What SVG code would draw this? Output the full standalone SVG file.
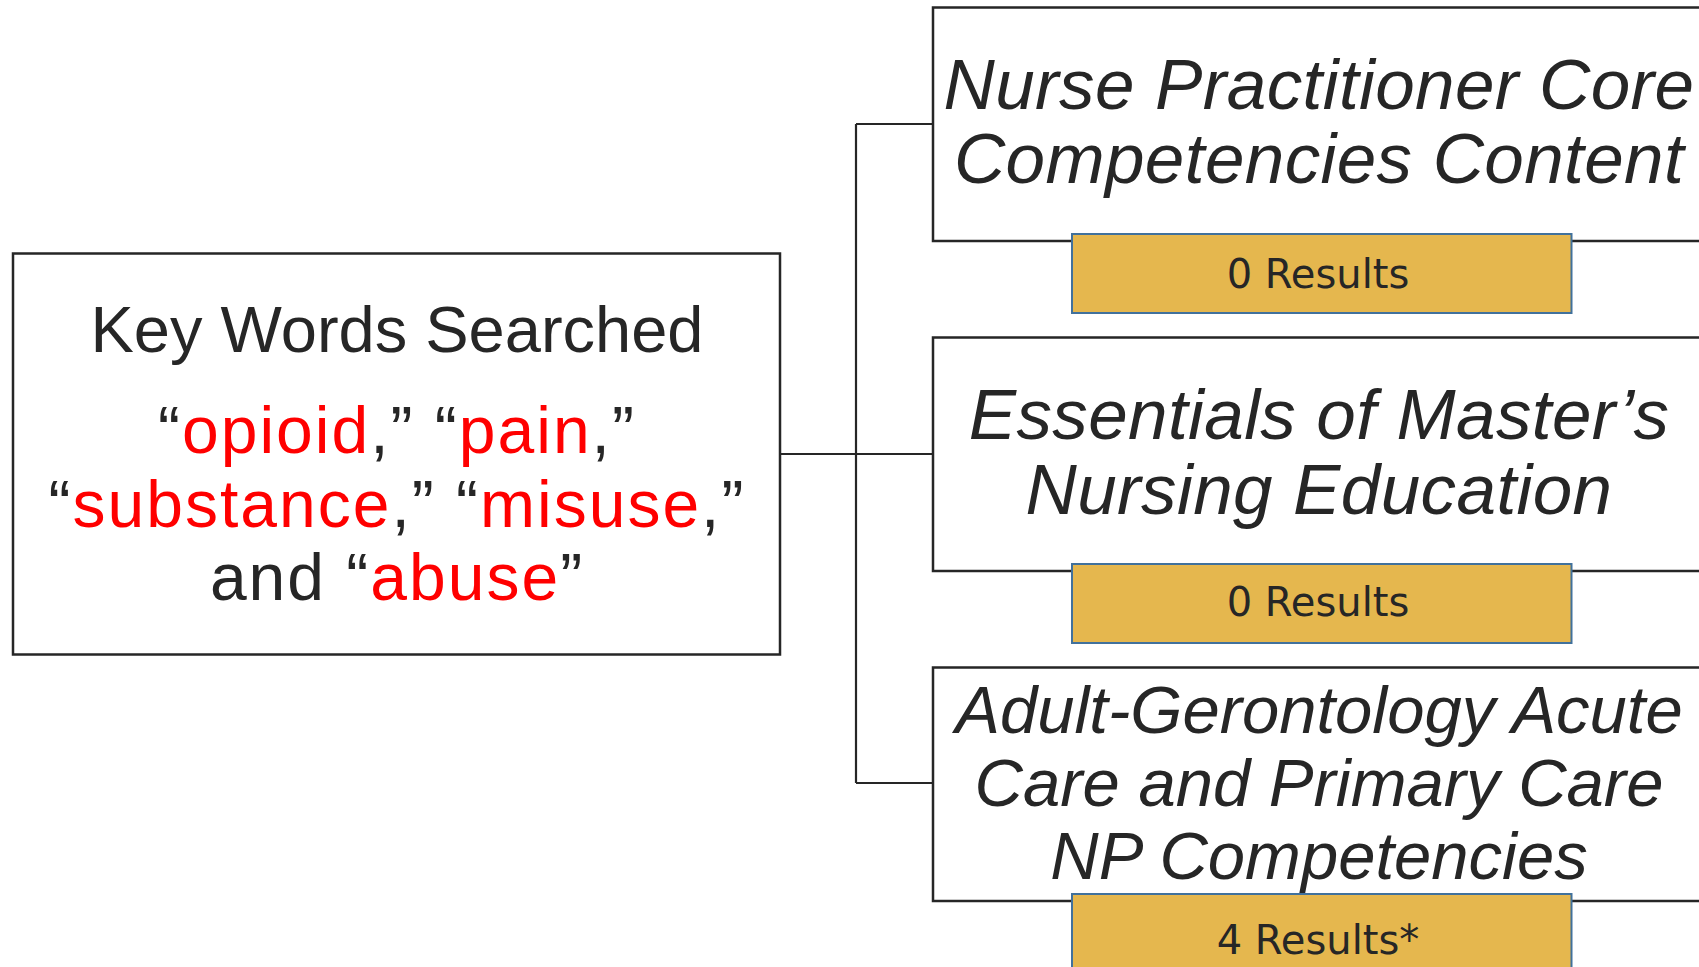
<svg xmlns="http://www.w3.org/2000/svg" width="1699" height="967" viewBox="0 0 1699 967">
<style>
.box{fill:#fff;stroke:#262626;stroke-width:2.5}
.res{fill:#E5B74E;stroke:#41719C;stroke-width:2}
.con{fill:none;stroke:#262626;stroke-width:2.2}
.t{font-family:"Liberation Sans",Arial,sans-serif;fill:#262626;text-anchor:middle}
.kw{font-size:65px}
.kr{font-size:66px;letter-spacing:2px}
.red{fill:#FF0000}
.ti{font-size:71px;font-style:italic;letter-spacing:0.4px}
.ti3{font-size:67px;font-style:italic}
.rt{font-family:"DejaVu Sans","Liberation Sans",sans-serif;font-size:40px}
</style>
<rect width="1699" height="967" fill="#fff"/>
<g id="connectors">
<path class="con" d="M780,454 H933 M856,124 V783 M856,124 H933 M856,783 H933"/>
</g>
<g id="keywords">
<rect class="box" x="13" y="253.5" width="767" height="401"/>
<text class="t kw" x="397" y="351.5">Key Words Searched</text>
<text class="t kr" x="397" y="452.5">“<tspan class="red">opioid</tspan>,” “<tspan class="red">pain</tspan>,”</text>
<text class="t kr" x="397" y="526.5">“<tspan class="red">substance</tspan>,” “<tspan class="red">misuse</tspan>,”</text>
<text class="t kr" x="397" y="599.5">and “<tspan class="red">abuse</tspan>”</text>
</g>
<g id="np-core">
<rect class="box" x="933" y="7.5" width="790" height="233.5"/>
<text class="t ti" x="1319" y="108.5">Nurse Practitioner Core</text>
<text class="t ti" x="1319" y="182.5">Competencies Content</text>
</g>
<g id="np-core-results">
<rect class="res" x="1072" y="234" width="499.5" height="79"/>
<text class="t rt" x="1318" y="287.5">0 Results</text>
</g>
<g id="essentials">
<rect class="box" x="933" y="337.5" width="790" height="233.5"/>
<text class="t ti" x="1319" y="438.5">Essentials of Master’s</text>
<text class="t ti" x="1319" y="513.5">Nursing Education</text>
</g>
<g id="essentials-results">
<rect class="res" x="1072" y="564" width="499.5" height="79"/>
<text class="t rt" x="1318" y="616">0 Results</text>
</g>
<g id="agacnp">
<rect class="box" x="933" y="667.5" width="790" height="233.5"/>
<text class="t ti3" x="1319" y="732.5">Adult-Gerontology Acute</text>
<text class="t ti3" x="1319" y="805.5">Care and Primary Care</text>
<text class="t ti3" x="1319" y="879">NP Competencies</text>
</g>
<g id="agacnp-results">
<rect class="res" x="1072" y="894" width="499.5" height="90"/>
<text class="t rt" x="1318" y="953.5">4 Results*</text>
</g>
</svg>
